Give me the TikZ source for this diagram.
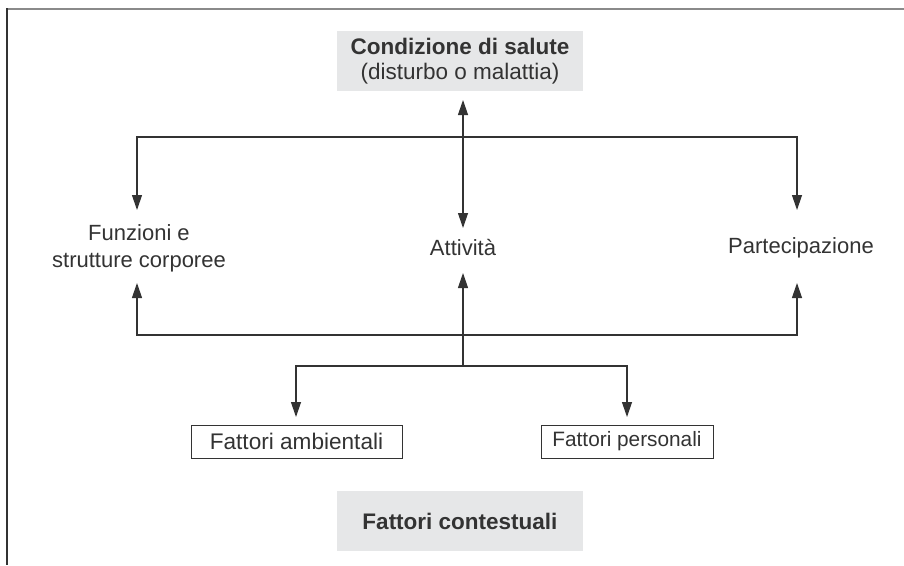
\documentclass[tikz,border=0pt]{standalone}
\usepackage{fontspec}
\setmainfont{Liberation Sans}
\usetikzlibrary{arrows.meta}
\definecolor{ink}{HTML}{333333}
\definecolor{boxgray}{HTML}{E6E7E8}
\definecolor{framegray}{HTML}{8A8A8A}
\begin{document}
\begin{tikzpicture}[x=1pt,y=-1pt,
  every node/.style={text=ink,font=\fontsize{22}{27}\selectfont},
  graybox/.style={fill=boxgray,minimum width=246pt,minimum height=60pt,inner sep=0pt,align=center},
  framebox/.style={draw=ink,line width=1pt,minimum height=33pt,inner sep=0pt,font=\fontsize{22.6}{27}\selectfont},
  lbl/.style={inner sep=0pt,align=center},
  conn/.style={draw=ink,line width=1.2pt},
  arr/.style={conn,-{Triangle[length=15pt,width=10pt]}},
  darr/.style={conn,{Triangle[length=15pt,width=10pt]}-{Triangle[length=15pt,width=10pt]}}]
\useasboundingbox (0,0) rectangle (904,565);
% frame
\draw[framegray,line width=2pt] (6,8.5) -- (904,8.5);
\draw[ink,line width=2pt] (6.5,8) -- (6.5,565);
% nodes
\node[graybox,font=\fontsize{22.5}{24.5}\selectfont] (cond) at (460,61) {\textbf{Condizione di salute}\\(disturbo o malattia)};
\node[lbl] (funz) at (139,248) {Funzioni e\\strutture corporee};
\node[lbl] (att) at (463,248) {Attività};
\node[lbl] (part) at (801,248) {Partecipazione};
\node[framebox,minimum width=211pt] (amb) at (296.5,441.5) {Fattori ambientali};
\node[framebox,minimum width=172pt,font=\fontsize{20.8}{27}\selectfont] (pers) at (627,441.5) {Fattori personali};
\node[graybox,font=\bfseries\fontsize{22.5}{24}\selectfont] (ctx) at (460,521) {Fattori contestuali};
% coordinates
\coordinate (tC) at (463,100);
\coordinate (tA1) at (463,228);
\coordinate (jT) at (463,137);
\coordinate (tF1) at (137,210);
\coordinate (tP1) at (797,210);
\coordinate (tA2) at (463,273);
\coordinate (jM) at (463,335);
\coordinate (jB) at (463,366);
\coordinate (tF2) at (137,283);
\coordinate (tP2) at (797,283);
\coordinate (tAmb) at (296,417);
\coordinate (tPers) at (627,417);
% connectors
\draw[darr] (tC) -- (tA1);
\draw[arr] (jT) -| (tF1);
\draw[arr] (jT) -| (tP1);
\draw[arr] (jB) -- (tA2);
\draw[arr] (jM) -| (tF2);
\draw[arr] (jM) -| (tP2);
\draw[arr] (jB) -| (tAmb);
\draw[arr] (jB) -| (tPers);
\end{tikzpicture}
\end{document}
